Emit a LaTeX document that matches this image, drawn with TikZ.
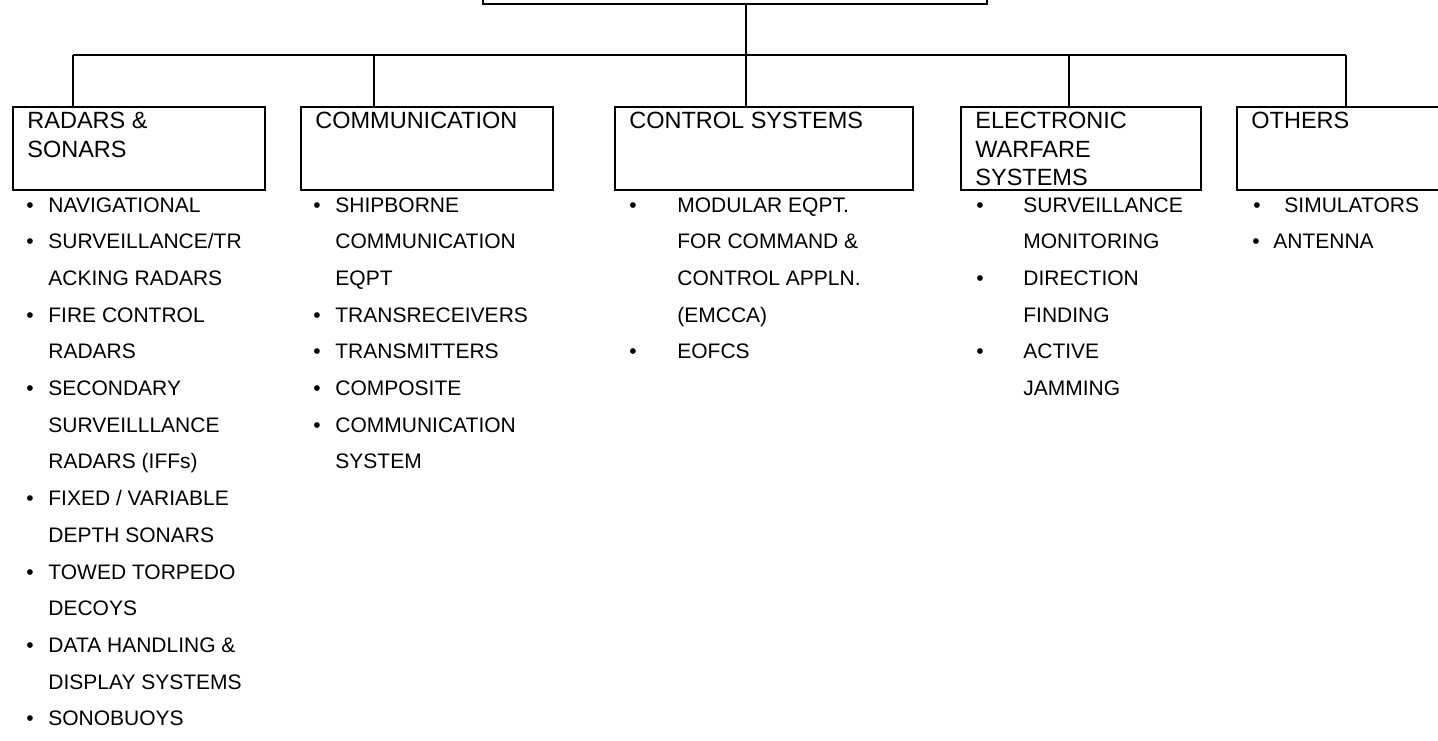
\documentclass[tikz,border=0pt]{standalone}
\usepackage{fontspec}
\setmainfont{Liberation Sans}
\usetikzlibrary{positioning}

\newcommand{\bitem}[2][11pt]{\makebox[#1][l]{\textbullet}#2}
\newcommand{\bcont}[2][11pt]{\hspace*{#1}#2}

\begin{document}
\begin{tikzpicture}[
    x=0.5pt, y=-0.5pt,
    catbox/.style={
        rectangle, draw=black, line width=0.8pt,
        minimum height=41.5pt, inner sep=0pt, anchor=north west
    },
    catlabel/.style={
        inner sep=0pt, align=left, anchor=north west,
        font=\fontsize{11.75}{14.25}\selectfont
    },
    itemlist/.style={
        inner sep=0pt, align=left, anchor=north west,
        font=\fontsize{10.5}{18.35}\selectfont
    },
    link/.style={line width=0.8pt, draw=black}
]

\useasboundingbox (0,0) rectangle (1438,740);
\clip (0,0) rectangle (1438,740);

% ===== Boxes =====
\node[catbox, anchor=south west, minimum width=252pt, minimum height=30pt] (top) at (482,5) {};

\node[catbox, minimum width=126pt] (radar) at (12,106)   {};
\node[catbox, minimum width=126pt] (comm)  at (300,106)  {};
\node[catbox, minimum width=149pt] (ctrl)  at (614,106)  {};
\node[catbox, minimum width=120pt] (ew)    at (960,106)  {};
\node[catbox, minimum width=110pt] (other) at (1236,106) {};

% ===== Box titles =====
\node[catlabel, below right=3pt and 7.5pt of radar.north west] (radarT) {RADARS \&\\SONARS};
\node[catlabel, below right=3pt and 7.5pt of comm.north west]  (commT)  {COMMUNICATION};
\node[catlabel, below right=3pt and 7.5pt of ctrl.north west]  (ctrlT)  {CONTROL SYSTEMS};
\node[catlabel, below right=3pt and 7.5pt of ew.north west]    (ewT)    {ELECTRONIC\\WARFARE\\SYSTEMS};
\node[catlabel, below right=3pt and 7.5pt of other.north west] (otherT) {OTHERS};

% ===== Connectors =====
\coordinate (dRadar) at (73,55);
\coordinate (dComm)  at (374,55);
\coordinate (dCtrl)  at (746,55);
\coordinate (dEw)    at (1069,55);
\coordinate (dOther) at (1346,55);

\draw[link] (dCtrl |- top.south) -- (dCtrl |- ctrl.north);
\draw[link] (dRadar) -- (dOther);
\draw[link] (dRadar) -- (dRadar |- radar.north);
\draw[link] (dComm)  -- (dComm |- comm.north);
\draw[link] (dEw)    -- (dEw |- ew.north);
\draw[link] (dOther) -- (dOther |- other.north);

% ===== Item lists =====
\node[itemlist] (radarL) at (26,197) {%
    \bitem{NAVIGATIONAL}\\
    \bitem{SURVEILLANCE/TR}\\
    \bcont{ACKING RADARS}\\
    \bitem{FIRE CONTROL}\\
    \bcont{RADARS}\\
    \bitem{SECONDARY}\\
    \bcont{SURVEILLLANCE}\\
    \bcont{RADARS (IFFs)}\\
    \bitem{FIXED / VARIABLE}\\
    \bcont{DEPTH SONARS}\\
    \bitem{TOWED TORPEDO}\\
    \bcont{DECOYS}\\
    \bitem{DATA HANDLING \&}\\
    \bcont{DISPLAY SYSTEMS}\\
    \bitem{SONOBUOYS}};

\node[itemlist] (commL) at (313,197) {%
    \bitem{SHIPBORNE}\\
    \bcont{COMMUNICATION}\\
    \bcont{EQPT}\\
    \bitem{TRANSRECEIVERS}\\
    \bitem{TRANSMITTERS}\\
    \bitem{COMPOSITE}\\
    \bitem{COMMUNICATION}\\
    \bcont{SYSTEM}};

\node[itemlist] (ctrlL) at (629,197) {%
    \bitem[24pt]{MODULAR EQPT.}\\
    \bcont[24pt]{FOR COMMAND \&}\\
    \bcont[24pt]{CONTROL APPLN.}\\
    \bcont[24pt]{(EMCCA)}\\
    \bitem[24pt]{EOFCS}};

\node[itemlist] (ewL) at (976,197) {%
    \bitem[23.5pt]{SURVEILLANCE}\\
    \bcont[23.5pt]{MONITORING}\\
    \bitem[23.5pt]{DIRECTION}\\
    \bcont[23.5pt]{FINDING}\\
    \bitem[23.5pt]{ACTIVE}\\
    \bcont[23.5pt]{JAMMING}};

\node[itemlist] (otherL) at (1252,197) {%
    \hspace*{0.5pt}\bitem[15.5pt]{SIMULATORS}\\
    \bitem[10.5pt]{ANTENNA}};

\end{tikzpicture}
\end{document}
